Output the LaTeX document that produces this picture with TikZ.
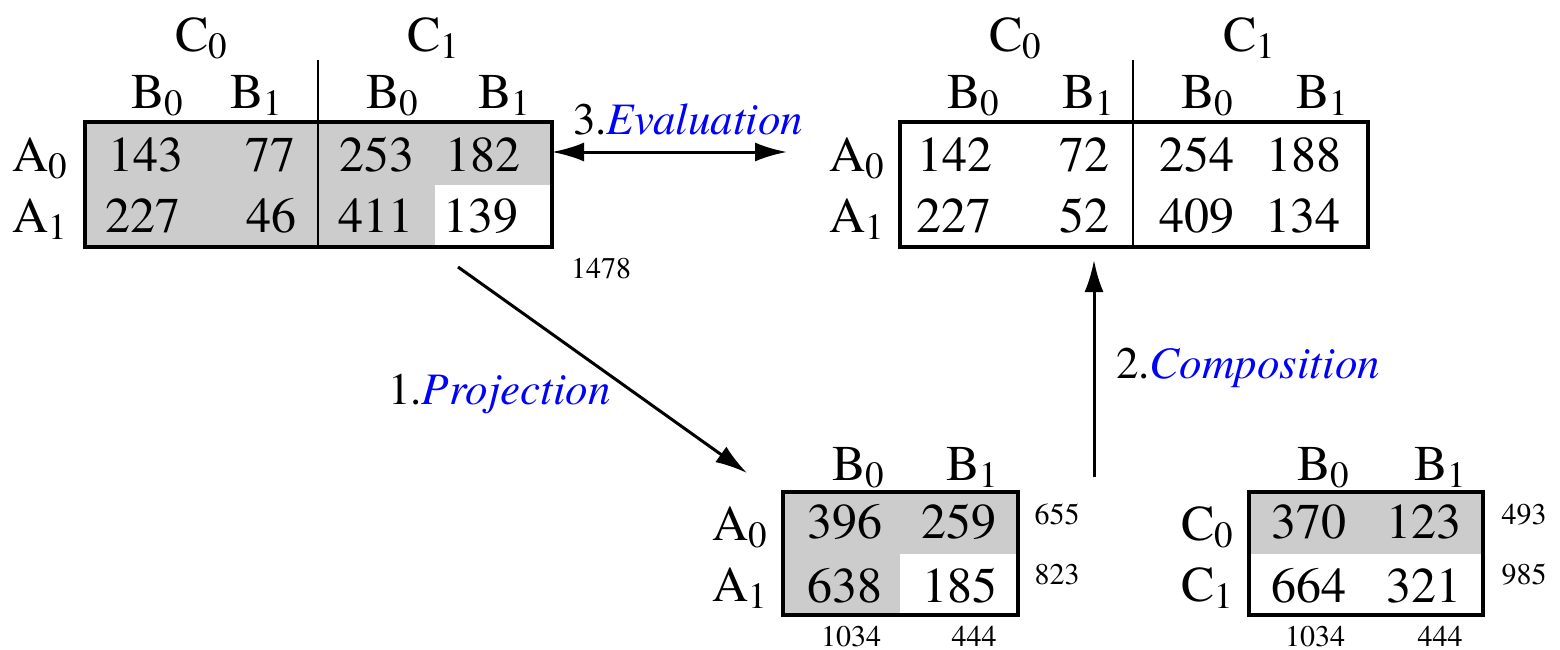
\documentclass[tikz,border=0pt]{standalone}
\usepackage{fontspec}
\setmainfont{texgyretermes}[Extension=.otf, UprightFont=*-regular, ItalicFont=*-italic, BoldFont=*-bold, BoldItalicFont=*-bolditalic]
\usetikzlibrary{arrows.meta}
\definecolor{cellgray}{HTML}{CCCCCC}
\definecolor{lblblue}{HTML}{0000FF}
\newcommand\subx[1]{\raisebox{-7pt}{\fontsize{37}{40}\selectfont #1}}
\newcommand\opname[1]{\textcolor{lblblue}{\itshape #1}}
\tikzset{
  big/.style={inner sep=0pt, anchor=base, font=\fontsize{50}{60}\selectfont},
  small/.style={inner sep=0pt, anchor=base, font=\fontsize{30}{36}\selectfont},
  lbl/.style={inner sep=0pt, anchor=base west, font=\fontsize{45}{54}\selectfont},
  tbox/.style={draw, line width=3.2pt, inner sep=0pt, outer sep=0pt, anchor=center},
  divider/.style={line width=2.4pt},
  conn/.style={line width=3pt, -{Latex[length=32pt,width=19pt]}},
  dconn/.style={line width=3pt, {Latex[length=32pt,width=19pt]}-{Latex[length=32pt,width=19pt]}},
}
\begin{document}
\begin{tikzpicture}[x=1pt,y=-1pt]
\useasboundingbox (0,0) rectangle (1560,650);

% ---------- Table 1 (top left) ----------
\fill[cellgray] (85,122) rectangle (552,184.5);
\fill[cellgray] (85,184.5) rectangle (435,247);
\node[tbox, minimum width=467pt, minimum height=125pt] (t1) at (318.5,184.5) {};
\draw[divider] (318,60) -- (318,247);
\node[big] (t1c0) at (201,52) {C\subx{0}};
\node[big] (t1c1) at (433,52) {C\subx{1}};
\node[big] (t1b00) at (157,109) {B\subx{0}};
\node[big] (t1b01) at (256,109) {B\subx{1}};
\node[big] (t1b10) at (392,109) {B\subx{0}};
\node[big] (t1b11) at (504,109) {B\subx{1}};
\node[big] (t1a0) at (40,171) {A\subx{0}};
\node[big] (t1a1) at (40,232) {A\subx{1}};
\node[big] (t1v1) at (146,171) {143};
\node[big] (t1v2) at (270,171) {77};
\node[big] (t1v3) at (377,171) {253};
\node[big] (t1v4) at (483,171) {182};
\node[big] (t1v5) at (143,232) {227};
\node[big] (t1v6) at (271,232) {46};
\node[big] (t1v7) at (376,232) {411};
\node[big] (t1v8) at (481,232) {139};
\node[small] (t1tot) at (601,278) {1478};

% ---------- Table 2 (top right) ----------
\node[tbox, minimum width=468pt, minimum height=125pt] (t2) at (1134,184.5) {};
\draw[divider] (1133,60) -- (1133,247);
\node[big] (t2c0) at (1015,52) {C\subx{0}};
\node[big] (t2c1) at (1249,52) {C\subx{1}};
\node[big] (t2b00) at (973,109) {B\subx{0}};
\node[big] (t2b01) at (1088,109) {B\subx{1}};
\node[big] (t2b10) at (1207,109) {B\subx{0}};
\node[big] (t2b11) at (1322,109) {B\subx{1}};
\node[big] (t2a0) at (857,171) {A\subx{0}};
\node[big] (t2a1) at (857,232) {A\subx{1}};
\node[big] (t2v1) at (955,171) {142};
\node[big] (t2v2) at (1084,171) {72};
\node[big] (t2v3) at (1197,171) {254};
\node[big] (t2v4) at (1304,171) {188};
\node[big] (t2v5) at (954,232) {227};
\node[big] (t2v6) at (1084,232) {52};
\node[big] (t2v7) at (1197,232) {409};
\node[big] (t2v8) at (1303,232) {134};

% ---------- Table 3 (bottom middle) ----------
\fill[cellgray] (783,492) rectangle (1018,553.5);
\fill[cellgray] (783,553.5) rectangle (900,615);
\node[tbox, minimum width=235pt, minimum height=123pt] (t3) at (900.5,553.5) {};
\node[big] (t3b0) at (858,480) {B\subx{0}};
\node[big] (t3b1) at (972,480) {B\subx{1}};
\node[big] (t3a0) at (740,540) {A\subx{0}};
\node[big] (t3a1) at (740,601) {A\subx{1}};
\node[big] (t3v1) at (845,538) {396};
\node[big] (t3v2) at (959,538) {259};
\node[big] (t3v3) at (845,602) {638};
\node[big] (t3v4) at (960,602) {185};
\node[small] (t3r0) at (1057,524) {655};
\node[small] (t3r1) at (1057,584) {823};
\node[small] (t3s0) at (851,646) {1034};
\node[small] (t3s1) at (974,646) {444};

% ---------- Table 4 (bottom right) ----------
\fill[cellgray] (1249,492) rectangle (1483,553.5);
\node[tbox, minimum width=234pt, minimum height=123pt] (t4) at (1366,553.5) {};
\node[big] (t4b0) at (1323,480) {B\subx{0}};
\node[big] (t4b1) at (1440,480) {B\subx{1}};
\node[big] (t4c0) at (1207,540) {C\subx{0}};
\node[big] (t4c1) at (1207,601) {C\subx{1}};
\node[big] (t4v1) at (1309,538) {370};
\node[big] (t4v2) at (1424,538) {123};
\node[big] (t4v3) at (1309,602) {664};
\node[big] (t4v4) at (1424,602) {321};
\node[small] (t4r0) at (1524,524) {493};
\node[small] (t4r1) at (1524,584) {985};
\node[small] (t4s0) at (1315,646) {1034};
\node[small] (t4s1) at (1440,646) {444};

% ---------- Connectors ----------
\coordinate (p1s) at (458,267);
\coordinate (p1e) at (747,473);
\coordinate (p2s) at (1094,477);
\coordinate (p2e) at (1094,260);
\coordinate (p3s) at (552,152);
\coordinate (p3e) at (787,152);
\draw[conn] (p1s) -- (p1e);
\draw[conn] (p2s) -- (p2e);
\draw[dconn] (p3s) -- (p3e);

\node[lbl] (l1) at (388,404) {1.\opname{Projection}};
\node[lbl] (l2) at (1116,378) {2.\opname{Composition}};
\node[lbl] (l3) at (573,135) {3.\opname{Evaluation}};
\end{tikzpicture}
\end{document}
